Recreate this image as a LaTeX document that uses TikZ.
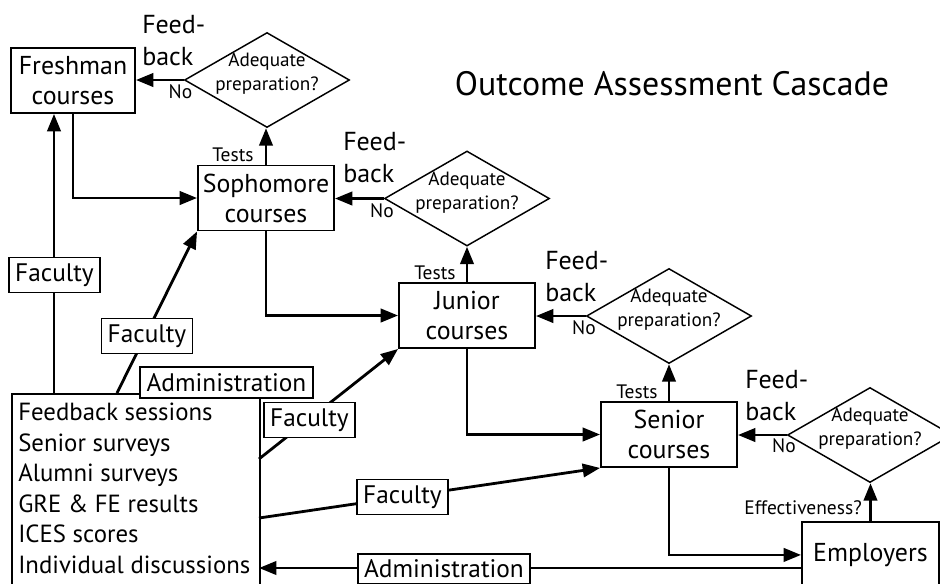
\documentclass[tikz,border=0pt]{standalone}
\usepackage{fontspec}
\setmainfont{PT Sans}
\usetikzlibrary{arrows.meta,shapes.geometric}
\begin{document}
\begin{tikzpicture}[x=0.75pt,y=-0.75pt,
  box/.style={draw, line width=1.4pt, minimum width=102pt, minimum height=48.75pt, align=center, font=\fontsize{19.4}{22.5}\selectfont, inner sep=0pt},
  dia/.style={draw, diamond, line width=1.1pt, minimum width=123.75pt, minimum height=71.25pt, inner sep=0pt},
  diatext/.style={align=center, font=\fontsize{14.4}{18}\selectfont, inner sep=0pt},
  lab/.style={draw, fill=white, line width=1.4pt, font=\fontsize{19}{22}\selectfont, inner xsep=4.7pt, inner ysep=4.5pt},
  small/.style={font=\fontsize{14.6}{16}\selectfont, inner sep=0pt},
  fb/.style={align=left, font=\fontsize{19.5}{24}\selectfont, inner sep=0pt},
  arr/.style={line width=2.1pt, -{Triangle[length=13pt,width=10pt]}},
]
\useasboundingbox (0,0) rectangle (940,583);
\clip (0,0) rectangle (940,583);
\fill[white] (0,0) rectangle (940,583);

% title
\node[font=\fontsize{25.4}{30}\selectfont, inner sep=0pt] (title) at (672,84) {Outcome Assessment Cascade};

% information box
\node[draw, line width=1.4pt, anchor=north west, minimum width=186pt, minimum height=180pt, inner sep=0pt] (info) at (11,393) {};
\node[anchor=north west, align=left, font=\fontsize{18.6}{22.9}\selectfont, inner sep=0pt] (infotext) at (18,403)
  {Feedback sessions\\Senior surveys\\Alumni surveys\\GRE \& FE results\\ICES scores\\Individual discussions};

% course boxes
\node[box, minimum width=93pt] (fresh) at (73,80.5) {Freshman\\courses};
\node[box] (soph) at (266,198) {Sophomore\\courses};
\node[box] (jun) at (467,315.5) {Junior\\courses};
\node[box] (sen) at (669,434.5) {Senior\\courses};
\node[box, minimum width=102.75pt, minimum height=49.5pt, anchor=north] (emp) at (870.5,521) {Employers};

% decision diamonds
\node[dia] (d1) at (267,80) {};
\node[dia] (d2) at (467,198.5) {};
\node[dia] (d3) at (669,316) {};
\node[dia] (d4) at (870,435) {};
\node[diatext] (q1) at (267,74) {Adequate\\preparation?};
\node[diatext] (q2) at (467,192.5) {Adequate\\preparation?};
\node[diatext] (q3) at (669,310) {Adequate\\preparation?};
\node[diatext] (q4) at (870,429) {Adequate\\preparation?};

% feedback labels
\node[fb, anchor=west] (f1) at (142,41) {Feed-\\back};
\node[fb, anchor=west] (f2) at (343,158) {Feed-\\back};
\node[fb, anchor=west] (f3) at (545,277) {Feed-\\back};
\node[fb, anchor=west] (f4) at (745,396) {Feed-\\back};

% small labels
\node[small] (n1) at (180.5,91.5) {No};
\node[small] (n2) at (382,210.5) {No};
\node[small] (n3) at (584,328) {No};
\node[small] (n4) at (784,446) {No};
\node[small] (ts1) at (233,155) {Tests};
\node[small] (ts2) at (435,273) {Tests};
\node[small] (ts3) at (637,392) {Tests};
\node[small, anchor=east] (eff) at (862,508) {Effectiveness?};

% cascade connectors
\draw[arr] (d1.west) -- (d1.west -| fresh.east);
\draw[arr] (soph.north) -- (soph.north |- d1.south);
\draw[arr] (fresh.south) |- (soph.west);
\draw[arr] (d2.west) -- (d2.west -| soph.east);
\draw[arr] (jun.north) -- (jun.north |- d2.south);
\draw[arr] (soph.south) |- (jun.west);
\draw[arr] (d3.west) -- (d3.west -| jun.east);
\draw[arr] (sen.north) -- (sen.north |- d3.south);
\draw[arr] (jun.south) |- (sen.west);
\draw[arr] (d4.west) -- (d4.west -| sen.east);
\draw[arr] (emp.north) -- (emp.north |- d4.south);
\draw[arr] (sen.south) |- (emp.west);

% faculty / administration connectors
\coordinate (i1) at (54,393);
\coordinate (i2) at (117,393);
\coordinate (i3) at (259,459);
\coordinate (i4) at (259,518);
\coordinate (i5) at (259,568);
\draw[arr] (i1) -- (i1 |- fresh.south);
\draw[arr] (i2) -- (soph.south west);
\draw[arr] (i3) -- (jun.south west);
\draw[arr] (i4) -- (sen.south west);
\draw[arr] (i5 -| emp.west) -- (i5);

\node[lab] (fac1) at (54.5,275) {Faculty};
\node[lab] (fac2) at (147,336) {Faculty};
\node[lab] (fac3) at (309.5,420) {Faculty};
\node[lab] (fac4) at (402.5,497) {Faculty};
\node[lab] (adm1) at (226.5,382.5) {Administration};
\node[lab] (adm2) at (444,569) {Administration};
\end{tikzpicture}
\end{document}
